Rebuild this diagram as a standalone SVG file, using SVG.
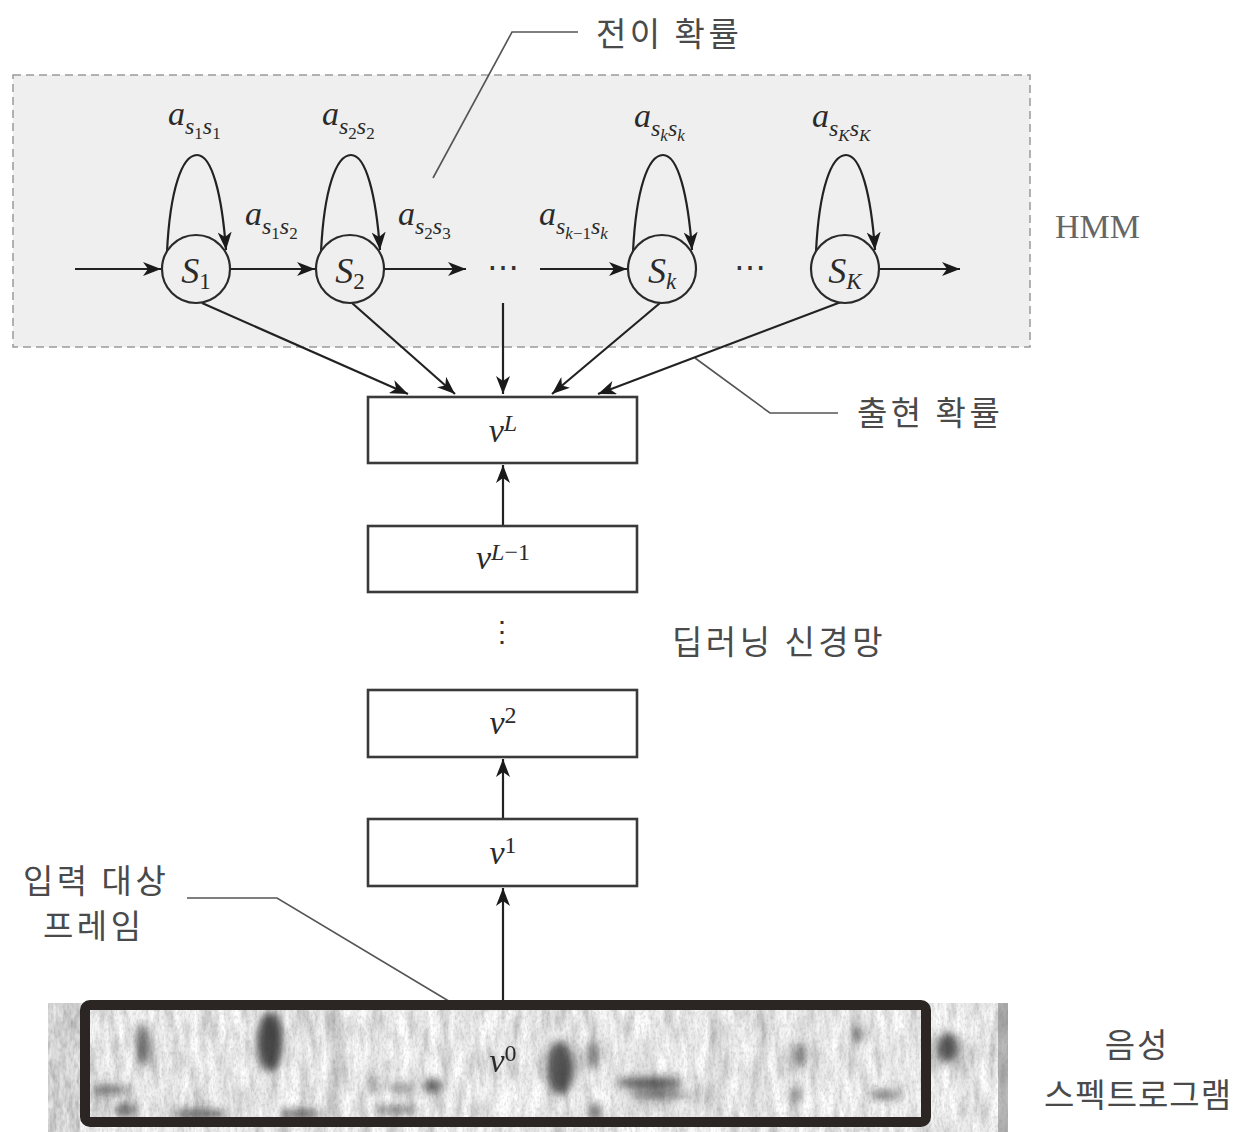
<svg xmlns="http://www.w3.org/2000/svg" width="1246" height="1132" viewBox="0 0 1246 1132">
<style>
.arr{fill:none;stroke:#222;stroke-width:2.2;marker-end:url(#ah)}
.lead{fill:none;stroke:#555;stroke-width:1.6}
.st{fill:#efefef;stroke:#2a2a2a;stroke-width:2.2}
.box{fill:#fff;stroke:#3a3a3a;stroke-width:2.6}
.m{font-family:"Liberation Serif","DejaVu Serif",serif;font-style:italic;fill:#2a2a2a}
.up{font-style:normal}
.ko{font-family:"Noto Sans CJK KR","Noto Sans",sans-serif;font-size:33px;fill:#4a4a4a;letter-spacing:3.5px}
.dots{font-family:"DejaVu Serif",serif;fill:#333}
</style>
<defs>
<marker id="ah" markerUnits="userSpaceOnUse" markerWidth="20" markerHeight="14" refX="18" refY="7" orient="auto">
<path d="M0,0 L18,7 L0,14 L5,7 z" fill="#1a1a1a"/>
</marker>
<filter id="noise" x="0" y="0" width="100%" height="100%">
<feTurbulence type="fractalNoise" baseFrequency="0.1 0.025" numOctaves="4" seed="7" result="t"/>
<feColorMatrix in="t" type="matrix" values="0.8 0 0 0 0.42  0.8 0 0 0 0.42  0.8 0 0 0 0.42  0 0 0 0 1"/>
</filter>
<filter id="grain" x="0" y="0" width="100%" height="100%">
<feTurbulence type="fractalNoise" baseFrequency="0.45 0.25" numOctaves="2" seed="4" result="t"/>
<feColorMatrix in="t" type="matrix" values="0 0 0 0 0.2  0 0 0 0 0.2  0 0 0 0 0.2  1.6 0 0 0 -0.7"/>
</filter>
<filter id="noise2" x="0" y="0" width="100%" height="100%">
<feTurbulence type="fractalNoise" baseFrequency="0.3 0.1" numOctaves="2" seed="2" result="t"/>
<feColorMatrix in="t" type="matrix" values="0.8 0 0 0 0.12  0.8 0 0 0 0.12  0.8 0 0 0 0.12  0 0 0 0 1"/>
</filter>
<filter id="blur" x="-50%" y="-50%" width="200%" height="200%">
<feGaussianBlur stdDeviation="4"/>
</filter>
</defs>

<!-- HMM region -->
<g id="hmm">
<rect x="13" y="75" width="1017" height="272" fill="#efefef" stroke="#9a9a9a" stroke-width="1.5" stroke-dasharray="8 5"/>
<text x="1055" y="238" font-family="Liberation Serif,serif" font-size="34" fill="#666">HMM</text>
</g>

<g id="label-transition">
<polyline class="lead" points="433,178 512,32 578,32"/>
<text class="ko" x="596" y="46" font-size="34">전이 확률</text>
</g>
<g id="label-emission">
<polyline class="lead" points="695,358 770,413 838,413"/>
<text class="ko" x="857" y="425" font-size="34">출현 확률</text>
</g>
<g id="label-dnn">
<text class="ko" x="672" y="654" font-size="34">딥러닝 신경망</text>
</g>
<g id="label-input">
<text class="ko" x="23" y="893" font-size="34">입력 대상</text>
<text class="ko" x="43" y="938" font-size="34">프레임</text>
<polyline class="lead" points="187,898 277,898 452,1003"/>
</g>
<g id="label-spec">
<text class="ko" x="1137" y="1057" text-anchor="middle" style="letter-spacing:2px">음성</text>
<text class="ko" x="1138" y="1107" text-anchor="middle" style="letter-spacing:1px">스펙트로그램</text>
</g>

<!-- connectors -->
<g id="connectors">
<line class="arr" x1="75" y1="269" x2="161" y2="269"/>
<line class="arr" x1="230" y1="269" x2="315" y2="269"/>
<line class="arr" x1="384" y1="269" x2="466" y2="269"/>
<line class="arr" x1="540" y1="269" x2="627" y2="269"/>
<line class="arr" x1="879" y1="269" x2="960" y2="269"/>
<path class="arr" d="M167,252 C170,190 182,155 197,155 C212,155 222,195 226,250"/>
<path class="arr" d="M321,252 C324,190 336,155 351,155 C366,155 376,195 380,250"/>
<path class="arr" d="M633,252 C636,190 648,155 663,155 C678,155 688,195 692,250"/>
<path class="arr" d="M816,252 C819,190 831,155 846,155 C861,155 871,195 875,250"/>
<line class="arr" x1="202" y1="303" x2="408" y2="394"/>
<line class="arr" x1="352" y1="303" x2="455" y2="394"/>
<line class="arr" x1="503" y1="303" x2="503" y2="394"/>
<line class="arr" x1="660" y1="303" x2="552" y2="394"/>
<line class="arr" x1="841" y1="302" x2="598" y2="394"/>
<line class="arr" x1="503" y1="526" x2="503" y2="465"/>
<line class="arr" x1="503" y1="819" x2="503" y2="759"/>
<line class="arr" x1="503" y1="1000" x2="503" y2="888"/>
</g>

<!-- transition labels -->
<g id="trans-labels">
<text class="m" x="168" y="125" font-size="34">a<tspan font-size="24" dy="9">s</tspan><tspan class="up" font-size="17" dy="5">1</tspan><tspan font-size="24" dy="-5">s</tspan><tspan class="up" font-size="17" dy="5">1</tspan></text>
<text class="m" x="322" y="125" font-size="34">a<tspan font-size="24" dy="9">s</tspan><tspan class="up" font-size="17" dy="5">2</tspan><tspan font-size="24" dy="-5">s</tspan><tspan class="up" font-size="17" dy="5">2</tspan></text>
<text class="m" x="634" y="127" font-size="34">a<tspan font-size="24" dy="9">s</tspan><tspan font-size="17" dy="5">k</tspan><tspan font-size="24" dy="-5">s</tspan><tspan font-size="17" dy="5">k</tspan></text>
<text class="m" x="812" y="127" font-size="34">a<tspan font-size="24" dy="9">s</tspan><tspan font-size="17" dy="5">K</tspan><tspan font-size="24" dy="-5">s</tspan><tspan font-size="17" dy="5">K</tspan></text>
<text class="m" x="245" y="225" font-size="34">a<tspan font-size="24" dy="9">s</tspan><tspan class="up" font-size="17" dy="5">1</tspan><tspan font-size="24" dy="-5">s</tspan><tspan class="up" font-size="17" dy="5">2</tspan></text>
<text class="m" x="398" y="225" font-size="34">a<tspan font-size="24" dy="9">s</tspan><tspan class="up" font-size="17" dy="5">2</tspan><tspan font-size="24" dy="-5">s</tspan><tspan class="up" font-size="17" dy="5">3</tspan></text>
<text class="m" x="539" y="225" font-size="34">a<tspan font-size="24" dy="9">s</tspan><tspan font-size="17" dy="5">k</tspan><tspan class="up" font-size="17">−1</tspan><tspan font-size="24" dy="-5">s</tspan><tspan font-size="17" dy="5">k</tspan></text>
<text class="dots" x="503" y="278" font-size="32" text-anchor="middle">⋯</text>
<text class="dots" x="750" y="278" font-size="32" text-anchor="middle">⋯</text>
</g>

<!-- states -->
<g id="state-s1"><circle class="st" cx="196" cy="269" r="34"/><text class="m" x="196" y="283" font-size="36" text-anchor="middle">S<tspan class="up" font-size="23" dy="6">1</tspan></text></g>
<g id="state-s2"><circle class="st" cx="350" cy="269" r="34"/><text class="m" x="350" y="283" font-size="36" text-anchor="middle">S<tspan class="up" font-size="23" dy="6">2</tspan></text></g>
<g id="state-sk"><circle class="st" cx="662" cy="269" r="34"/><text class="m" x="662" y="283" font-size="36" text-anchor="middle">S<tspan font-size="23" dy="6">k</tspan></text></g>
<g id="state-sK"><circle class="st" cx="845" cy="269" r="34"/><text class="m" x="845" y="283" font-size="36" text-anchor="middle">S<tspan font-size="23" dy="6">K</tspan></text></g>

<!-- layers -->
<g id="layer-vL"><rect class="box" x="368" y="397" width="269" height="66"/><text class="m" x="503" y="442" font-size="34" text-anchor="middle">v<tspan font-size="24" dy="-11">L</tspan></text></g>
<g id="layer-vL1"><rect class="box" x="368" y="526" width="269" height="66"/><text class="m" x="503" y="569" font-size="34" text-anchor="middle">v<tspan font-size="24" dy="-9">L</tspan><tspan class="up" font-size="24">−1</tspan></text></g>
<g id="vdots"><text class="dots" x="502" y="641" font-size="28" text-anchor="middle">⋮</text></g>
<g id="layer-v2"><rect class="box" x="368" y="690" width="269" height="67"/><text class="m" x="503" y="734" font-size="34" text-anchor="middle">v<tspan class="up" font-size="24" dy="-11">2</tspan></text></g>
<g id="layer-v1"><rect class="box" x="368" y="819" width="269" height="67"/><text class="m" x="503" y="864" font-size="34" text-anchor="middle">v<tspan class="up" font-size="24" dy="-11">1</tspan></text></g>

<!-- spectrogram -->
<g id="spectrogram">
<rect x="48" y="1003" width="960" height="129" fill="#ccc" filter="url(#noise)"/>
<rect x="48" y="1003" width="960" height="129" fill="#000" filter="url(#grain)" opacity="0.35"/>
<rect x="48" y="1003" width="32" height="129" fill="#999" filter="url(#noise2)" opacity="0.5"/>
<rect x="998" y="1003" width="10" height="129" fill="#777" opacity="0.5"/>
<g fill="#2a2a2a" filter="url(#blur)">
<ellipse cx="143" cy="1045" rx="6" ry="22" opacity="0.75"/>
<ellipse cx="270" cy="1042" rx="13" ry="30" opacity="0.85"/>
<rect x="333" y="1010" width="5" height="110" opacity="0.45"/>
<ellipse cx="110" cy="1090" rx="20" ry="5" opacity="0.6"/>
<ellipse cx="125" cy="1110" rx="12" ry="7" opacity="0.6"/>
<ellipse cx="200" cy="1114" rx="28" ry="5" opacity="0.7"/>
<ellipse cx="300" cy="1114" rx="20" ry="5" opacity="0.7"/>
<ellipse cx="395" cy="1110" rx="22" ry="4" opacity="0.6"/>
<ellipse cx="372" cy="1085" rx="4" ry="11" opacity="0.5"/>
<ellipse cx="400" cy="1088" rx="14" ry="4" opacity="0.5"/>
<ellipse cx="432" cy="1086" rx="10" ry="7" opacity="0.7"/>
<ellipse cx="560" cy="1068" rx="14" ry="27" opacity="0.8"/>
<ellipse cx="592" cy="1055" rx="5" ry="15" opacity="0.65"/>
<ellipse cx="650" cy="1083" rx="34" ry="6" opacity="0.75"/>
<ellipse cx="660" cy="1095" rx="32" ry="4" opacity="0.6"/>
<ellipse cx="595" cy="1112" rx="7" ry="9" opacity="0.6"/>
<ellipse cx="800" cy="1055" rx="6" ry="13" opacity="0.6"/>
<ellipse cx="795" cy="1095" rx="6" ry="9" opacity="0.5"/>
<ellipse cx="858" cy="1035" rx="5" ry="9" opacity="0.6"/>
<ellipse cx="885" cy="1095" rx="15" ry="5" opacity="0.6"/>
<ellipse cx="948" cy="1048" rx="11" ry="15" opacity="0.8"/>
<rect x="713" y="1010" width="4" height="110" opacity="0.3"/>
<rect x="760" y="1010" width="4" height="110" opacity="0.25"/>
</g>
<rect x="85" y="1005" width="841" height="117" rx="5" fill="none" stroke="#2b2523" stroke-width="10"/>
<text class="m" x="503" y="1072" font-size="34" text-anchor="middle">v<tspan class="up" font-size="24" dy="-11">0</tspan></text>
</g>
</svg>
